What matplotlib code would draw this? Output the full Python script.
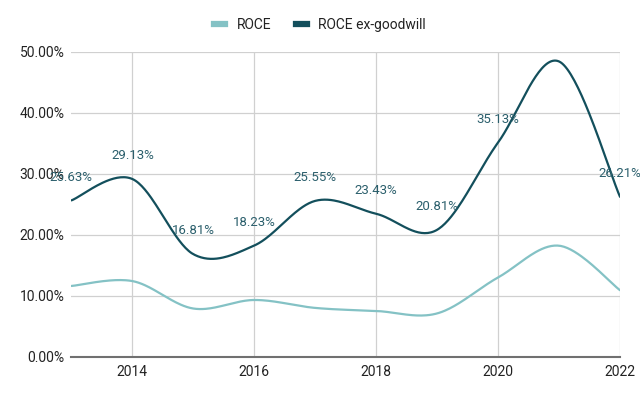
import numpy as np
import matplotlib
matplotlib.use("Agg")
import matplotlib.pyplot as plt
from matplotlib.lines import Line2D

years = [2013, 2014, 2015, 2016, 2017, 2018, 2019, 2020, 2021, 2022]
roce = [11.6, 12.4, 7.9, 9.3, 8.0, 7.5, 7.1, 13.0, 18.2, 10.9]
roce_ex = [25.63, 29.13, 16.81, 18.23, 25.55, 23.43, 20.81, 35.13, 48.4, 26.21]
ex_labels = ["25.63%", "29.13%", "16.81%", "18.23%", "25.55%", "23.43%", "20.81%", "35.13%", "", "26.21%"]
x_ticks = [2014, 2016, 2018, 2020, 2022]
y_ticks = [0, 10, 20, 30, 40, 50]

C_LIGHT = "#84c2c5"
C_DARK = "#134f5c"
C_LABEL = "#2b5f6c"

plt.rcParams['font.family'] = ['Roboto', 'DejaVu Sans']


def smooth(xs, ys, n=40):
    xs = np.asarray(xs, float)
    ys = np.asarray(ys, float)
    m = len(xs)
    outx, outy = [], []
    for i in range(m - 1):
        p0 = np.array([xs[i], ys[i]])
        p1 = np.array([xs[i + 1], ys[i + 1]])
        pm = np.array([xs[i - 1], ys[i - 1]]) if i > 0 else p0
        pp = np.array([xs[i + 2], ys[i + 2]]) if i + 2 < m else p1
        c1 = p0 + (p1 - pm) / 6.0
        c2 = p1 - (pp - p0) / 6.0
        t = np.linspace(0, 1, n)[:, None]
        pts = ((1 - t) ** 3) * p0 + 3 * ((1 - t) ** 2) * t * c1 + 3 * (1 - t) * t ** 2 * c2 + t ** 3 * p1
        outx.extend(pts[:, 0])
        outy.extend(pts[:, 1])
    return np.array(outx), np.array(outy)


fig = plt.figure(figsize=(6.4, 3.96), dpi=100)
ax = fig.add_axes([0.1116, 0.0992, 0.9688 - 0.1116, 0.8694 - 0.0992])

sx, sy = smooth(years, roce)
ax.plot(sx, sy, color=C_LIGHT, lw=1.6, solid_capstyle='round', zorder=3)
sx, sy = smooth(years, roce_ex)
ax.plot(sx, sy, color=C_DARK, lw=1.6, solid_capstyle='round', zorder=4)

for xv, yv, lab in zip(years, roce_ex, ex_labels):
    if lab:
        ax.annotate(lab, (xv, yv), xytext=(0, 16.8), textcoords='offset points',
                    ha='center', va='center', fontsize=9.5, color=C_LABEL,
                    annotation_clip=False, zorder=5)

ax.set_xlim(2013, 2022)
ax.set_ylim(0, 50)
ax.set_xticks(x_ticks)
ax.set_xticklabels([str(v) for v in x_ticks])
ax.set_yticks(y_ticks)
ax.set_yticklabels([f"{v:.2f}%" for v in y_ticks])
ax.grid(True, color="#d0d0d0", lw=0.9)
ax.set_axisbelow(True)
for s in ['top', 'right', 'left']:
    ax.spines[s].set_visible(False)
ax.spines['bottom'].set_color("#707070")
ax.spines['bottom'].set_linewidth(1.5)
ax.tick_params(axis='both', length=0, labelsize=10, labelcolor="#222222")
ax.tick_params(axis='x', pad=6)
ax.tick_params(axis='y', pad=5)

handles = [Line2D([], [], color=C_LIGHT, lw=4.5), Line2D([], [], color=C_DARK, lw=4.5)]
fig.legend(handles, ["ROCE", "ROCE ex-goodwill"], loc='center', bbox_to_anchor=(0.5, 1 - 25 / 396),
           ncol=2, frameon=False, fontsize=10, handlelength=0.8, handletextpad=0.8,
           columnspacing=1.8, labelcolor="#222222")

fig.savefig("out.png", dpi=100)
